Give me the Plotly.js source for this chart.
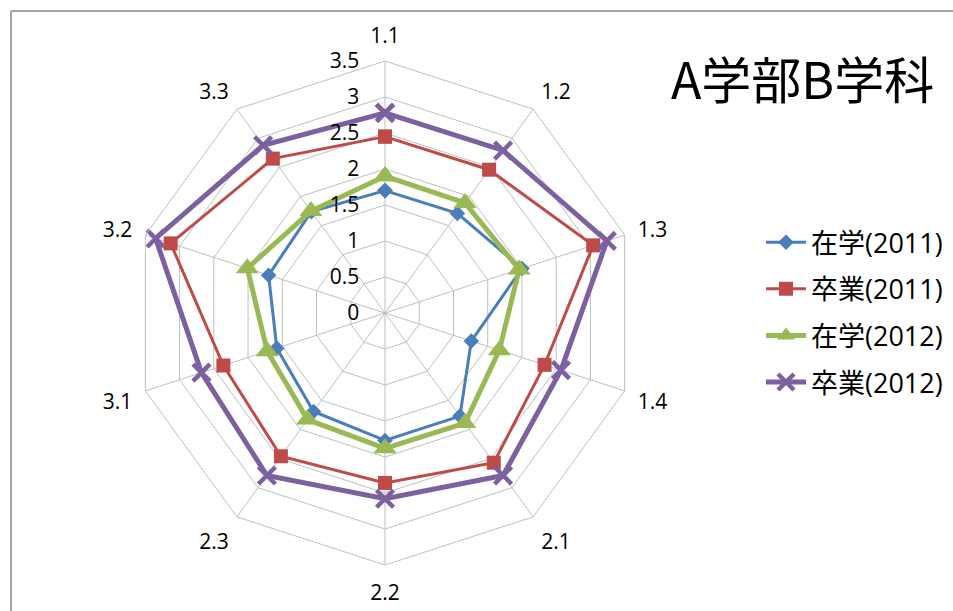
<!DOCTYPE html>
<html>
<head>
<meta charset="utf-8">
<script src="https://cdn.plot.ly/plotly-3.0.1.min.js"></script>
<style>html,body{margin:0;padding:0;background:#fff;}#chart{width:953px;height:611px;}</style>
</head>
<body>
<div id="chart"></div>
<script>
const categories = ["1.1","1.2","1.3","1.4","2.1","2.2","2.3","3.1","3.2","3.3"];
const seriesNames = ["在学(2011)","卒業(2011)","在学(2012)","卒業(2012)"];
const zaigaku2011 = [1.70, 1.71, 2.00, 1.26, 1.77, 1.77, 1.69, 1.58, 1.70, 1.74];
const sotsugyo2011 = [2.45, 2.46, 3.04, 2.33, 2.57, 2.36, 2.46, 2.36, 3.13, 2.65];
const zaigaku2012 = [1.90, 1.89, 1.96, 1.67, 1.89, 1.88, 1.83, 1.72, 2.01, 1.75];
const sotsugyo2012 = [2.78, 2.79, 3.24, 2.57, 2.79, 2.58, 2.79, 2.68, 3.35, 2.88];
const radialTicks = [0, 0.5, 1, 1.5, 2, 2.5, 3, 3.5];
const titleText = "A学部B学科";

const FONT = '"Open Sans", "Noto Sans CJK JP", sans-serif';
const CJK = '"Noto Sans CJK JP", "Noto Sans", sans-serif';
const close = a => a.concat([a[0]]);
const cats = close(categories);

const styles = [
  {color:'#4A7EBB', width:3, symbol:'diamond', size:12, lw:0},
  {color:'#BE4B48', width:3, symbol:'square', size:14, lw:0},
  {color:'#98B954', width:5, symbol:'triangle-up', size:20, lw:0},
  {color:'#7D60A0', width:5, symbol:'x-thin', size:17, lw:4.5}
];
const values = [zaigaku2011, sotsugyo2011, zaigaku2012, sotsugyo2012];

const data = values.map((v, i) => ({
  type: 'scatterpolar',
  mode: 'lines+markers',
  r: close(v),
  theta: cats,
  name: seriesNames[i],
  legendgroup: 'g' + i,
  line: {color: styles[i].color, width: styles[i].width},
  marker: {symbol: styles[i].symbol, size: styles[i].size, color: styles[i].color,
           line: {color: styles[i].color, width: styles[i].lw}},
  cliponaxis: false
}));

const layout = {
  width: 953, height: 611,
  margin: {l:0, r:0, t:0, b:0},
  paper_bgcolor: '#ffffff',
  font: {family: FONT, color: '#000000'},
  showlegend: true,
  title: {text: titleText, font: {family: CJK, size: 50, color: '#000'},
          x: 0.704, xanchor: 'left', y: 0.866, yanchor: 'middle'},
  legend: {x: 761/953, xanchor: 'left', y: 0.643, yanchor: 'top',
           itemwidth: 40,
           font: {family: FONT, size: 27, color: '#000'},
           traceorder: 'grouped', tracegroupgap: 8.5, bgcolor: 'rgba(0,0,0,0)'},
  polar: {
    domain: {x: [133/953, 637/953], y: [46/611, 550/611]},
    gridshape: 'linear',
    bgcolor: 'rgba(0,0,0,0)',
    angularaxis: {
      type: 'category', categoryarray: categories,
      direction: 'clockwise', rotation: 90,
      showline: true, linecolor: '#bfbfbf', linewidth: 1,
      gridcolor: '#bfbfbf', gridwidth: 1,
      ticks: 'outside', ticklen: 9, tickcolor: 'rgba(0,0,0,0)',
      tickfont: {family: FONT, size: 21, color: '#000'}
    },
    radialaxis: {
      range: [0, 3.5], tickvals: radialTicks, ticktext: radialTicks.map(String),
      angle: 90, tickangle: 90, side: 'counterclockwise',
      showline: false, gridcolor: '#bfbfbf', gridwidth: 1,
      ticks: 'outside', ticklen: 18, tickcolor: 'rgba(0,0,0,0)',
      tickfont: {family: FONT, size: 21, color: '#000'}
    }
  },
  shapes: [
    {type:'line', xref:'paper', yref:'paper', x0: 11/953, x1: 1, y0: 1-11/611, y1: 1-11/611, line:{color:'#a6a6a6', width:2}},
    {type:'line', xref:'paper', yref:'paper', x0: 11/953, x1: 11/953, y0: 0, y1: 1-11/611, line:{color:'#a6a6a6', width:2}}
  ]
};

Plotly.newPlot('chart', data, layout, {displayModeBar: false, staticPlot: true});
</script>
</body>
</html>
